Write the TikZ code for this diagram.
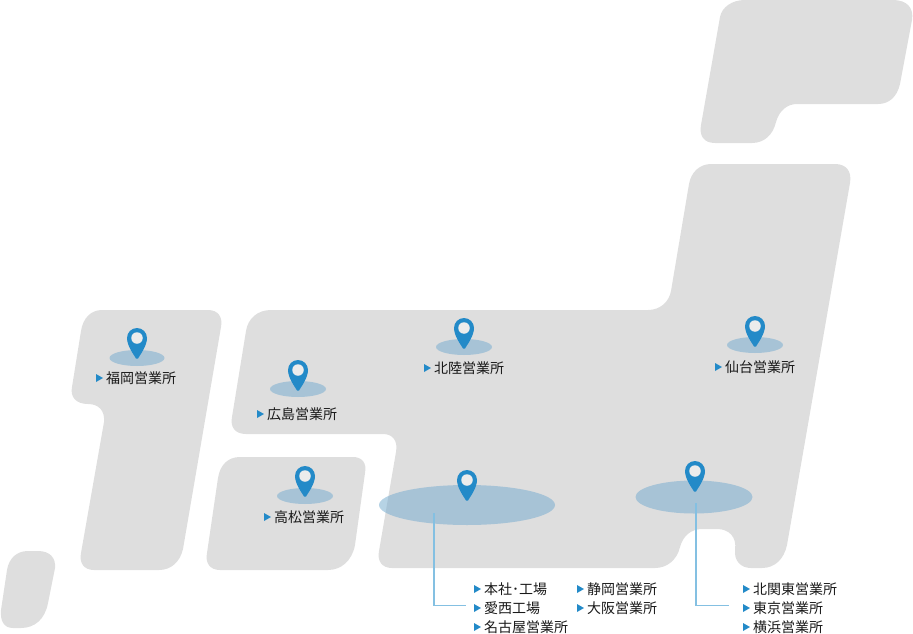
\documentclass[tikz,border=0pt]{standalone}
\usepackage{fontspec}
\setmainfont{Noto Sans CJK JP}
\definecolor{landgray}{RGB}{222,222,222}
\definecolor{pinblue}{RGB}{35,138,200}
\definecolor{holegray}{RGB}{236,236,236}
\definecolor{spotblue}{RGB}{122,174,208}
\definecolor{leadblue}{RGB}{132,192,226}
\definecolor{labelblack}{RGB}{25,25,25}
\tikzset{
	land/.style={fill=landgray,draw=none},
	spot/.style={fill=spotblue,opacity=.55,draw=none},
	pin body/.style={fill=pinblue,draw=none},
	pin hole/.style={fill=holegray,draw=none},
	office/.style={anchor=west,inner sep=0pt,text=labelblack,font=\fontsize{14}{14}\selectfont},
	lead/.style={draw=leadblue,line width=1.5pt}
}
% pin: name, x, y of the head centre
\newcommand{\mappin}[3]{
	\fill[pin body] (#2,#3) ++(-10,0) arc[start angle=180,end angle=360,radius=10]
		.. controls (#2+10,#3+8) and (#2+3,#3+17) .. (#2+1,#3+20.5)
		-- (#2-1,#3+20.5)
		.. controls (#2-3,#3+17) and (#2-10,#3+8) .. cycle;
	\node[pin hole,circle,minimum size=11.5pt,inner sep=0pt] (#1) at (#2,#3) {};
}
% office label: name, x, y of the text start, text
\newcommand{\officelabel}[4]{
	\node[office] (#1) at (#2,#3) {#4};
	\fill[pinblue] (#2-10,#3-4) -- (#2-3,#3) -- (#2-10,#3+4) -- cycle;
}
\begin{document}
\begin{tikzpicture}[x=1pt,y=-1pt]
	\useasboundingbox (0,0) rectangle (913,634);

	% land
	\fill[land] (745,0) -- (893,0) .. controls (907,0) and (914,8) .. (912,20)
		-- (900,84) .. controls (897,97) and (889,104) .. (878,104)
		-- (797,104) .. controls (787,104) and (779,111) .. (776,122)
		.. controls (773,135) and (764,143) .. (752,143)
		-- (715,143) .. controls (704,143) and (699,136) .. (701,125)
		-- (720,17) .. controls (722,7) and (732,0) .. (745,0) -- cycle;
	\fill[land] (711,164) -- (835,164) .. controls (846,164) and (852,171) .. (850,183)
		-- (787,545) .. controls (784,559) and (775,568) .. (762,568)
		-- (751,568) .. controls (741,568) and (734,561) .. (735,550)
		.. controls (737,537) and (729,529) .. (717,529)
		-- (702,529) .. controls (691,529) and (683,536) .. (680,547)
		.. controls (677,560) and (667,568) .. (655,568)
		-- (392,568) .. controls (382,568) and (377,561) .. (379,551)
		-- (396,452) .. controls (398,441) and (393,434) .. (383,434)
		-- (246,434) .. controls (235,434) and (230,427) .. (232,417)
		-- (246,331) .. controls (248,318) and (258,310) .. (271,310)
		-- (648,310) .. controls (660,310) and (669,302) .. (671,291)
		-- (689,184) .. controls (691,172) and (700,164) .. (711,164) -- cycle;
	\fill[land] (102,310) -- (208,310) .. controls (218,310) and (223,317) .. (221,327)
		-- (183,549) .. controls (180,562) and (171,570) .. (159,570)
		-- (94,570) .. controls (84,570) and (79,563) .. (81,553)
		-- (104,422) .. controls (105,411) and (99,404) .. (88,404)
		.. controls (76,404) and (70,397) .. (72,387)
		-- (81,331) .. controls (83,318) and (91,310) .. (102,310) -- cycle;
	\fill[land] (240,457) -- (353,457) .. controls (362,457) and (367,463) .. (365,473)
		-- (355,545) .. controls (352,561) and (341,570) .. (328,570)
		-- (220,570) .. controls (210,570) and (205,563) .. (207,553)
		-- (218,478) .. controls (220,465) and (228,457) .. (240,457) -- cycle;
	\fill[land] (28,551) -- (38,551) .. controls (50,551) and (56,558) .. (55,568)
		-- (48,603) .. controls (45,619) and (35,628) .. (21,628)
		-- (13,628) .. controls (4,628) and (0,621) .. (1,610)
		-- (7,570) .. controls (9,558) and (17,551) .. (28,551) -- cycle;

	% spots
	\fill[spot] (137,358) ellipse[x radius=27.5,y radius=8];
	\fill[spot] (464,347) ellipse[x radius=28,y radius=8];
	\fill[spot] (755,345) ellipse[x radius=28,y radius=8];
	\fill[spot] (298,389) ellipse[x radius=28,y radius=8];
	\fill[spot] (305,496) ellipse[x radius=28,y radius=8];
	\fill[spot] (467,505) ellipse[x radius=88,y radius=20];
	\fill[spot] (694,497) ellipse[x radius=58.5,y radius=16.5];

	% pins
	\mappin{fukuoka}{137}{338}
	\mappin{hokuriku}{464}{328}
	\mappin{sendai}{755}{326}
	\mappin{hiroshima}{298}{370}
	\mappin{takamatsu}{305}{476}
	\mappin{nagoya}{467}{480}
	\mappin{tokyo}{695}{471}

	% offices
	\officelabel{lfukuoka}{106}{378}{福岡営業所}
	\officelabel{lhokuriku}{434}{368}{北陸営業所}
	\officelabel{lsendai}{725}{367}{仙台営業所}
	\officelabel{lhiroshima}{267}{414}{広島営業所}
	\officelabel{ltakamatsu}{274}{517}{高松営業所}
	\officelabel{lhonsha}{484}{589}{本社･工場}
	\officelabel{lehime}{484}{608}{愛西工場}
	\officelabel{lnagoya}{484}{627}{名古屋営業所}
	\officelabel{lshizuoka}{587}{589}{静岡営業所}
	\officelabel{losaka}{587}{608}{大阪営業所}
	\officelabel{lkitakanto}{753}{589}{北関東営業所}
	\officelabel{ltokyo}{753}{608}{東京営業所}
	\officelabel{lyokohama}{753}{627}{横浜営業所}

	% leaders
	\coordinate (west start) at (434,513);
	\coordinate (west end) at (466,605.5);
	\coordinate (east start) at (696,503);
	\coordinate (east end) at (729,605.5);
	\draw[lead] (west start) |- (west end);
	\draw[lead] (east start) |- (east end);
\end{tikzpicture}
\end{document}
